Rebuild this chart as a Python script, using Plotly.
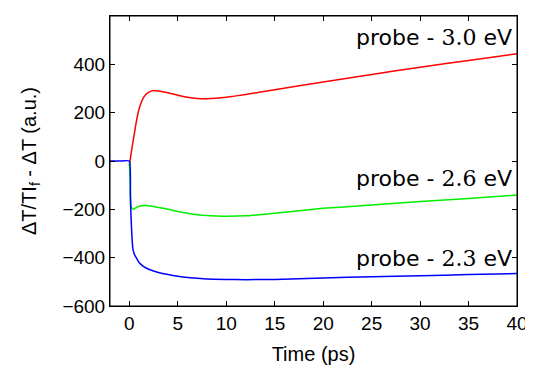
import plotly.graph_objects as go

# Data
t_red = [0, 0.25, 0.5, 0.75, 1, 1.5, 2, 2.5, 3, 4, 5, 6, 7, 8, 9, 10, 12, 15, 20, 25, 30, 35, 40]
red_vals = [-20, 50, 110, 170, 215, 265, 285, 292, 290, 282, 272, 264, 259, 258, 260, 264, 275, 295, 327, 358, 388, 416, 444]

t_green = [0, 0.1, 0.2, 0.4, 0.7, 1, 1.5, 2, 3, 4, 5, 6, 7, 8, 9, 10, 12, 13.4, 15, 20, 25, 30, 35, 40]
green_vals = [0, -120, -190, -200, -193, -187, -184, -185, -192, -200, -209, -216, -222, -226, -228, -229, -227, -222, -216, -196, -182, -168, -155, -141]

t_blue = [-2, -1, 0, 0.1, 0.2, 0.35, 0.5, 0.7, 1, 1.4, 2, 3, 4, 5, 6, 8, 10, 12, 15, 20, 25, 30, 35, 40]
blue_vals = [0, 0, 0, -150, -260, -360, -385, -400, -420, -435, -448, -461, -470, -477, -482, -488, -490, -491, -490, -484, -479, -475, -470, -466]

labels = ["3.0", "2.6", "2.3"]
label_y = [509, -74, -405]

x_range = [-2, 40]
y_range = [-600, 600]
x_ticks = [0, 5, 10, 15, 20, 25, 30, 35, 40]
y_ticks = [-600, -400, -200, 0, 200, 400, 600]

fig = go.Figure()
fig.add_trace(go.Scatter(x=t_red, y=red_vals, mode="lines",
                         line=dict(color="#ff0000", width=1.5, shape="spline", smoothing=0.5)))
fig.add_trace(go.Scatter(x=t_green, y=green_vals, mode="lines",
                         line=dict(color="#00ee00", width=1.5, shape="spline", smoothing=0.5)))
fig.add_trace(go.Scatter(x=t_blue, y=blue_vals, mode="lines",
                         line=dict(color="#0000ff", width=1.5, shape="spline", smoothing=0.4)))

for lab, yv in zip(labels, label_y):
    fig.add_annotation(
        x=1, xref="paper", y=yv, yref="y", xanchor="right", yanchor="middle",
        xshift=-3, showarrow=False,
        text="probe - <span style='font-family:DejaVu Serif'>" + lab + "</span> eV",
        font=dict(family="DejaVu Sans", size=22, color="black"))

# plot frame
fig.add_shape(type="rect", xref="paper", yref="paper", x0=0, x1=1, y0=0, y1=1,
              line=dict(color="black", width=1), fillcolor="rgba(0,0,0,0)", layer="above")

tickfont = dict(family="Liberation Sans", size=19, color="black")
titlefont = dict(family="Liberation Sans", size=20, color="black")

axis_common = dict(showline=True, linecolor="black", linewidth=1, mirror="ticks",
                   ticks="inside", ticklen=5, tickcolor="black", showgrid=False,
                   zeroline=False, automargin=False, tickfont=tickfont)

fig.update_xaxes(range=x_range, tickvals=x_ticks,
                 title=dict(text="Time (ps)", font=titlefont, standoff=14),
                 **axis_common)
fig.update_yaxes(range=y_range, tickvals=y_ticks, ticksuffix="\u00a0",
                 title=dict(text="ΔT/TI<sub>f</sub> - ΔT (a.u.)", font=titlefont, standoff=20),
                 **axis_common)

fig.update_layout(template="none", width=533, height=373, showlegend=False,
                  plot_bgcolor="white", paper_bgcolor="white",
                  margin=dict(l=102, r=24, t=8, b=75))

fig.write_html("out.html")
